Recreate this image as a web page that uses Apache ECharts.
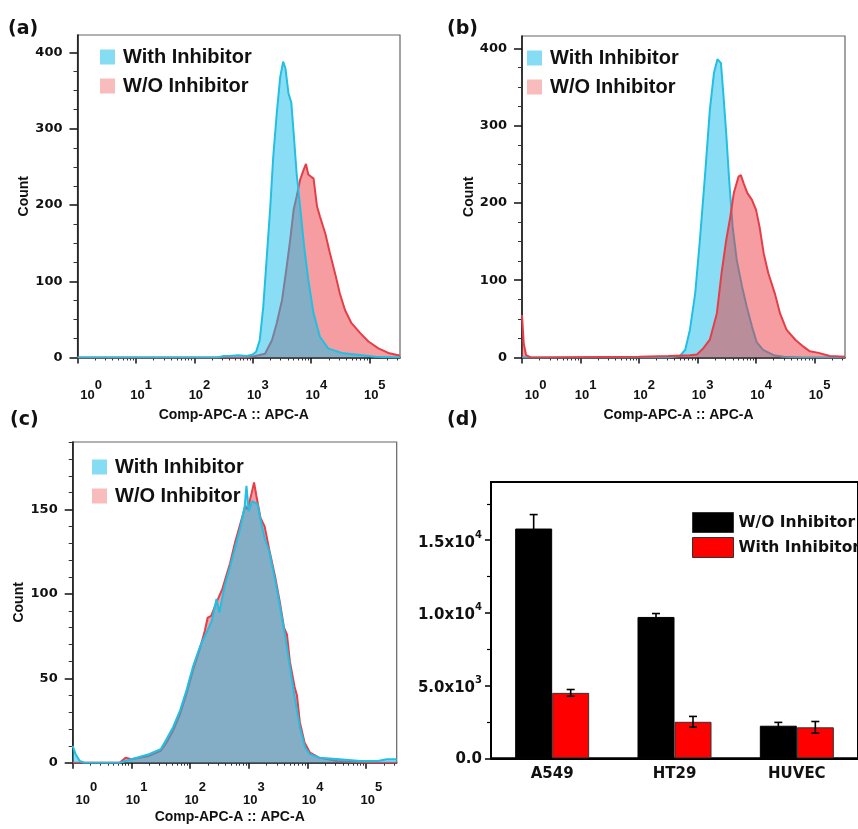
<!DOCTYPE html>
<html><head><meta charset="utf-8">
<script src="https://cdn.jsdelivr.net/npm/echarts@6/dist/echarts.min.js"></script>
<style>html,body{margin:0;padding:0;background:#fff}#c{width:858px;height:829px}</style>
</head><body><div id="c"></div>
<script>
// ---------- tick labels ----------
const decadeTicks = [0, 1, 2, 3, 4, 5];             // 10^0 .. 10^5
const aCountTicks = [0, 100, 200, 300, 400];
const aCountMinor = [25, 50, 75, 125, 150, 175, 225, 250, 275, 325, 350, 375, 425];
const bCountTicks = [0, 100, 200, 300, 400];
const bCountMinor = [25, 50, 75, 125, 150, 175, 225, 250, 275, 325, 350, 375];
const cCountTicks = [0, 50, 100, 150];
const cCountMinor = [10, 20, 30, 40, 60, 70, 80, 90, 110, 120, 130, 140, 160, 170, 180, 190];
const dYTicks = [0, 5000, 10000, 15000];
const dYMinor = [2500, 7500, 12500, 17500];
const dYMant = ['0.0', '5.0', '1.0', '1.5'];
const dYExp = ['', '3', '4', '4'];

// ---------- panel (a): x = log10(fluorescence), y = count ----------
const aWithE = [0, 2.4, 2.5, 2.6, 2.75, 2.9, 3.0, 3.06, 3.12, 3.18, 3.24, 3.30, 3.35, 3.41, 3.47, 3.52, 3.56, 3.61, 3.66, 3.70, 3.75, 3.81, 3.88, 3.95, 4.04, 4.15, 4.29, 4.52, 4.87, 5.1, 5.52];
const aWithC = [0, 0, 2, 2, 3, 2, 4, 8, 23, 67, 132, 198, 263, 320, 368, 388, 379, 347, 334, 294, 242, 198, 145, 102, 58, 27, 12, 6, 3, 1, 0];
const aWoE = [0, 2.9, 3.04, 3.21, 3.33, 3.41, 3.50, 3.58, 3.64, 3.70, 3.75, 3.81, 3.87, 3.91, 3.95, 4.00, 4.04, 4.10, 4.15, 4.24, 4.32, 4.41, 4.49, 4.58, 4.69, 4.84, 4.98, 5.15, 5.32, 5.49, 5.52];
const aWoC = [0, 0, 2, 5, 23, 45, 75, 119, 154, 194, 211, 233, 246, 254, 240, 237, 235, 198, 185, 163, 137, 110, 84, 62, 45, 32, 21, 12, 6, 3, 2];

// ---------- panel (b) ----------
const bWithE = [0, 2.5, 2.70, 2.79, 2.87, 2.96, 3.04, 3.13, 3.21, 3.28, 3.34, 3.40, 3.44, 3.49, 3.54, 3.60, 3.67, 3.76, 3.84, 3.93, 4.01, 4.12, 4.30, 4.47, 4.8, 5.52];
const bWithC = [0, 0, 2, 10, 36, 83, 152, 238, 320, 368, 386, 381, 342, 290, 230, 169, 126, 92, 66, 40, 20, 10, 3, 1, 0, 0];
const bWoE = [0, 0.03, 0.07, 0.15, 2.0, 2.5, 2.87, 2.99, 3.10, 3.21, 3.33, 3.41, 3.49, 3.56, 3.62, 3.70, 3.74, 3.79, 3.85, 3.93, 4.00, 4.06, 4.13, 4.21, 4.32, 4.41, 4.52, 4.67, 4.81, 4.92, 5.07, 5.26, 5.52];
const bWoC = [55, 18, 3, 0, 1, 2, 3, 4, 12, 23, 57, 109, 152, 182, 213, 234, 236, 225, 213, 204, 191, 169, 135, 109, 83, 57, 36, 23, 14, 8, 6, 2, 1];

// ---------- panel (c) ----------
const cWithE = [0, 0.05, 0.12, 0.2, 0.8, 1.0, 1.3, 1.5, 1.6, 1.71, 1.83, 1.94, 2.05, 2.17, 2.28, 2.37, 2.45, 2.50, 2.59, 2.68, 2.77, 2.86, 2.93, 2.96, 3.00, 3.06, 3.15, 3.20, 3.27, 3.35, 3.45, 3.53, 3.62, 3.70, 3.79, 3.87, 3.96, 4.04, 4.2, 4.55, 4.9, 5.2, 5.35, 5.52];
const cWithC = [10, 5, 1, 0, 0, 2, 5, 8, 14, 21, 31, 43, 57, 69, 77, 84, 97, 89, 105, 116, 128, 140, 152, 164, 149, 155, 153, 144, 133, 125, 108, 93, 75, 57, 37, 21, 9, 5, 3, 2, 1, 1, 2, 2];
const cWoE = [0, 0.8, 0.9, 1.0, 1.3, 1.5, 1.6, 1.71, 1.83, 1.94, 2.05, 2.17, 2.25, 2.30, 2.36, 2.45, 2.55, 2.68, 2.77, 2.86, 2.94, 2.98, 3.05, 3.09, 3.13, 3.20, 3.27, 3.35, 3.45, 3.53, 3.60, 3.65, 3.70, 3.78, 3.82, 3.87, 3.95, 4.04, 4.2, 4.5, 5.0, 5.52];
const cWoC = [0, 0, 3, 2, 4, 7, 12, 19, 29, 41, 55, 68, 78, 86, 87, 95, 103, 118, 131, 142, 152, 150, 160, 166, 158, 145, 140, 126, 110, 95, 80, 76, 60, 45, 40, 24, 12, 6, 3, 1, 0, 0];

// ---------- panel (d) ----------
const dCats = ['A549', 'HT29', 'HUVEC'];
const dWo = [15800, 9720, 2240];
const dWoErr = [960, 235, 230];
const dWith = [4500, 2510, 2130];
const dWithErr = [230, 370, 400];

// ---------- helpers ----------
const minorDecade = [];
for (const e of decadeTicks) for (let k = 2; k <= 9; k++) { const v = e + Math.log10(k); if (v < 5.52) minorDecade.push(v); }

const BLUE_LINE = '#22bfe2', BLUE_FILL = 'rgba(20,190,235,0.5)';
const RED_LINE = '#e63e48', RED_FILL = 'rgba(235,60,65,0.5)';
const ink = '#111';

function pair(xs, ys) { return xs.map((x, i) => [x, ys[i]]); }

function decadeLabel(lineH, margin) {
  const base = { fontFamily: 'Liberation Sans', fontWeight: 'bold', fontSize: 13, lineHeight: 14, verticalAlign: 'bottom', color: ink };
  return {
    customValues: decadeTicks, margin,
    formatter: v => '{h| }' + (v === 0 ? '{b0|10}' : '{b|10}') + '{s|' + v + '}',
    rich: {
      h: { fontSize: 1, lineHeight: lineH },
      b: Object.assign({}, base, { padding: [0, 0, 0, 10] }),
      b0: Object.assign({}, base, { padding: [0, 0, 0, 27] }),
      s: { fontFamily: 'Liberation Sans', fontWeight: 'bold', fontSize: 13, lineHeight: 14, verticalAlign: 'top', color: ink }
    }
  };
}

function histAxes(g, ymax, yTicks, yMinor, countGap, lineH, margin, nameGap) {
  const xs = [
    { gridIndex: g, type: 'value', min: 0, max: 5.52, position: 'bottom',
      axisLine: { lineStyle: { color: ink, width: 1.5 } },
      axisTick: { customValues: decadeTicks, length: 6, lineStyle: { color: ink, width: 1.5 } },
      axisLabel: decadeLabel(lineH, margin), splitLine: { show: false },
      name: 'Comp-APC-A :: APC-A', nameLocation: 'middle', nameGap,
      nameTextStyle: { fontFamily: 'Liberation Sans', fontWeight: 'bold', fontSize: 14, color: ink, padding: [0, 10, 0, 0] } },
    { gridIndex: g, type: 'value', min: 0, max: 5.52, position: 'bottom', offset: 0,
      axisLine: { show: false }, axisLabel: { show: false }, splitLine: { show: false },
      axisTick: { customValues: minorDecade, length: 3, lineStyle: { color: '#333', width: 1 } } }
  ];
  const ys = [
    { gridIndex: g, type: 'value', min: 0, max: ymax, position: 'left',
      axisLine: { show: true, lineStyle: { color: ink, width: 1.5 } },
      axisTick: { show: true, customValues: yTicks, length: 8, lineStyle: { color: ink, width: 1.5 } },
      axisLabel: { customValues: yTicks, margin: 15, fontFamily: 'DejaVu Sans', fontWeight: 'bold', fontSize: 13, color: ink },
      splitLine: { show: false },
      name: 'Count', nameLocation: 'middle', nameGap: countGap,
      nameTextStyle: { fontFamily: 'Liberation Sans', fontWeight: 'bold', fontSize: 14, color: ink } },
    { gridIndex: g, type: 'value', min: 0, max: ymax, position: 'left', offset: 0,
      axisLine: { show: false }, axisLabel: { show: false }, splitLine: { show: false },
      axisTick: { show: true, customValues: yMinor, length: 4, lineStyle: { color: '#333', width: 1 } } }
  ];
  return { xs, ys };
}

function hist(name, xs, ys, g, color, fill, z) {
  return { type: 'line', name, xAxisIndex: g * 2, yAxisIndex: g * 2, data: pair(xs, ys),
    symbol: 'none', showSymbol: false, smooth: false, silent: true, z,
    lineStyle: { color, width: 2 }, itemStyle: { color }, areaStyle: { color: fill, opacity: 1 } };
}

function histLegend(left, top) {
  return { left, top, padding: 0, orient: 'vertical', icon: 'rect', itemWidth: 15, itemHeight: 15, itemGap: 9,
    selectedMode: false,
    textStyle: { fontFamily: 'Liberation Sans', fontWeight: 'bold', fontSize: 20, color: ink, padding: [0, 0, 0, 3] },
    data: [
      { name: 'With Inhibitor', itemStyle: { color: '#86dcf3', borderWidth: 0 } },
      { name: 'W/O Inhibitor', itemStyle: { color: '#f8bcbc', borderWidth: 0 } }
    ] };
}

function errRender(off) {
  return function (params, api) {
    const i = api.value(0), v = api.value(1), e = api.value(2);
    const top = api.coord([i, v + e]), bot = api.coord([i, v - e]);
    const x = top[0] + off, cw = 4;
    const st = { stroke: '#000', lineWidth: 1.6 };
    return { type: 'group', children: [
      { type: 'line', shape: { x1: x, y1: top[1], x2: x, y2: bot[1] }, style: st },
      { type: 'line', shape: { x1: x - cw, y1: top[1], x2: x + cw, y2: top[1] }, style: st },
      { type: 'line', shape: { x1: x - cw, y1: bot[1], x2: x + cw, y2: bot[1] }, style: st }
    ] };
  };
}

const A = histAxes(0, 423, aCountTicks, aCountMinor, 46, 23, 21, 51);
const B = histAxes(1, 416, bCountTicks, bCountMinor, 44, 23, 21, 51);
const C = histAxes(2, 190, cCountTicks, cCountMinor, 47, 26, 18.5, 47);

const BAR_W = 37;
const panelTitle = { fontFamily: 'DejaVu Sans', fontWeight: 'bold', fontSize: 19, color: ink };

const option = {
  animation: false,
  backgroundColor: '#fff',
  title: [
    { text: '(a)', left: 8, top: 20, padding: 0, textStyle: panelTitle },
    { text: '(b)', left: 447, top: 20, padding: 0, textStyle: panelTitle },
    { text: '(c)', left: 10, top: 411, padding: 0, textStyle: panelTitle },
    { text: '(d)', left: 447, top: 411, padding: 0, textStyle: panelTitle }
  ],
  grid: [
    { left: 77.5, top: 35, width: 322.5, height: 322.5, show: true, borderColor: '#666', borderWidth: 1.2, backgroundColor: 'transparent' },
    { left: 522, top: 36, width: 323, height: 321.5, show: true, borderColor: '#666', borderWidth: 1.2, backgroundColor: 'transparent' },
    { left: 72.7, top: 442, width: 324, height: 320.7, show: true, borderColor: '#666', borderWidth: 1.2, backgroundColor: 'transparent' },
    { left: 491, top: 482, width: 375, height: 276.3, show: true, borderColor: '#000', borderWidth: 2, backgroundColor: 'transparent' }
  ],
  legend: [
    histLegend(100, 47),
    histLegend(527, 48),
    histLegend(92, 457),
    { left: 692, top: 512, padding: 0, orient: 'vertical', icon: 'rect', itemWidth: 41, itemHeight: 20, itemGap: 4, selectedMode: false,
      textStyle: { fontFamily: 'DejaVu Sans', fontWeight: 'bold', fontSize: 15.5, color: ink },
      data: [
        { name: 'W/O Inhibitor', itemStyle: { color: '#000', borderColor: '#333', borderWidth: 1 } },
        { name: 'With Inhibitor', itemStyle: { color: '#ff0000', borderColor: '#333', borderWidth: 1 } }
      ] }
  ],
  xAxis: [
    ...A.xs, ...B.xs, ...C.xs,
    { gridIndex: 3, type: 'category', data: dCats, position: 'bottom',
      axisLine: { lineStyle: { color: '#000', width: 2 } },
      axisTick: { alignWithLabel: true, length: 5, lineStyle: { color: '#000', width: 1.5 } },
      axisLabel: { margin: 8, fontFamily: 'DejaVu Sans', fontWeight: 'bold', fontSize: 15, color: ink },
      splitLine: { show: false } },
    { gridIndex: 3, type: 'category', data: dCats, position: 'bottom', offset: 0,
      axisLine: { show: false }, axisLabel: { show: false }, splitLine: { show: false },
      axisTick: { alignWithLabel: false, length: 3, lineStyle: { color: '#000', width: 1.2 } } }
  ],
  yAxis: [
    ...A.ys, ...B.ys, ...C.ys,
    { gridIndex: 3, type: 'value', min: 0, max: 19000, position: 'left',
      axisLine: { show: true, lineStyle: { color: '#000', width: 2 } },
      axisTick: { show: true, customValues: dYTicks, length: 6, lineStyle: { color: '#000', width: 1.5 } },
      axisLabel: { customValues: dYTicks, margin: 9,
        formatter: v => { const i = dYTicks.indexOf(v); return dYExp[i] ? '{h| }{m|' + dYMant[i] + 'x10}{e|' + dYExp[i] + '}' : '{m|' + dYMant[i] + '}'; },
        rich: {
          h: { fontSize: 1, lineHeight: 20 },
          m: { fontFamily: 'DejaVu Sans', fontWeight: 'bold', fontSize: 15, lineHeight: 16, verticalAlign: 'bottom', color: ink },
          e: { fontFamily: 'DejaVu Sans', fontWeight: 'bold', fontSize: 10, lineHeight: 11, verticalAlign: 'top', color: ink }
        } },
      splitLine: { show: false } },
    { gridIndex: 3, type: 'value', min: 0, max: 19000, position: 'left', offset: 0,
      axisLine: { show: false }, axisLabel: { show: false }, splitLine: { show: false },
      axisTick: { show: true, customValues: dYMinor, length: 4, lineStyle: { color: '#000', width: 1.2 } } }
  ],
  series: [
    hist('W/O Inhibitor', aWoE, aWoC, 0, RED_LINE, RED_FILL, 2),
    hist('With Inhibitor', aWithE, aWithC, 0, BLUE_LINE, BLUE_FILL, 3),
    hist('With Inhibitor', bWithE, bWithC, 1, BLUE_LINE, BLUE_FILL, 2),
    hist('W/O Inhibitor', bWoE, bWoC, 1, RED_LINE, RED_FILL, 3),
    hist('W/O Inhibitor', cWoE, cWoC, 2, RED_LINE, RED_FILL, 2),
    hist('With Inhibitor', cWithE, cWithC, 2, BLUE_LINE, BLUE_FILL, 3),
    { type: 'bar', name: 'W/O Inhibitor', xAxisIndex: 6, yAxisIndex: 6, data: dWo, barWidth: BAR_W, barGap: '0%',
      itemStyle: { color: '#000', borderColor: '#000', borderWidth: 1 }, silent: true },
    { type: 'bar', name: 'With Inhibitor', xAxisIndex: 6, yAxisIndex: 6, data: dWith, barWidth: BAR_W, barGap: '0%',
      itemStyle: { color: '#ff0000', borderColor: '#333', borderWidth: 1 }, silent: true },
    { type: 'custom', xAxisIndex: 6, yAxisIndex: 6, z: 10, silent: true,
      data: dCats.map((c, i) => [i, dWo[i], dWoErr[i]]), renderItem: errRender(-BAR_W / 2) },
    { type: 'custom', xAxisIndex: 6, yAxisIndex: 6, z: 10, silent: true,
      data: dCats.map((c, i) => [i, dWith[i], dWithErr[i]]), renderItem: errRender(BAR_W / 2) }
  ]
};

const chart = echarts.init(document.getElementById('c'), null, { renderer: 'canvas' });
chart.setOption(option);
</script>
</body></html>
